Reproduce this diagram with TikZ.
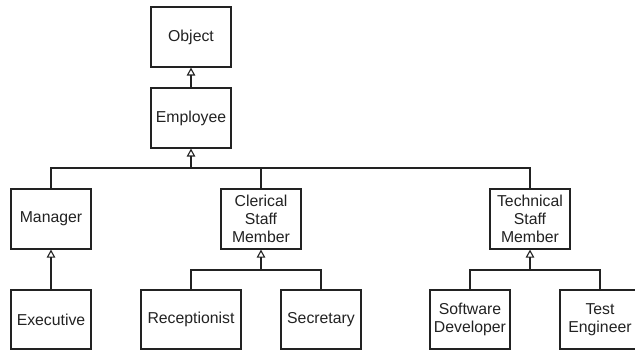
\documentclass[tikz,border=0pt]{standalone}
\usepackage{fontspec}
\setmainfont{Liberation Sans}
\usetikzlibrary{arrows.meta}
\definecolor{ink}{HTML}{222222}
\tikzset{
  cls/.style={draw=ink, line width=1.2pt, fill=white, minimum width=80pt, minimum height=60pt,
    inner sep=0pt, align=center, text=ink, font=\fontsize{15.8}{18.3}\selectfont},
  wide/.style={minimum width=100pt},
  low/.style={minimum height=59pt},
  gen/.style={draw=ink, line width=1.2pt, -{Triangle[open, length=8pt, width=8.5pt, line width=1.1pt]}},
  link/.style={draw=ink, line width=1.2pt}
}
\begin{document}
\begin{tikzpicture}[x=1pt, y=-1pt]
\clip (0,0) rectangle (635,350);
\fill[white] (0,0) rectangle (635,350);
\node[cls] (obj) at (191,37) {Object};
\node[cls] (emp) at (191,118) {Employee};
\node[cls] (mgr) at (51,219) {Manager};
\node[cls] (cler) at (261,219) {Clerical\\Staff\\Member};
\node[cls] (tech) at (530,219) {Technical\\Staff\\Member};
\node[cls,low] (exe) at (51,319.5) {Executive};
\node[cls,low,wide] (rec) at (191,319.5) {Receptionist};
\node[cls,low] (sec) at (321,319.5) {Secretary};
\node[cls,low] (soft) at (470,319.5) {Software\\Developer};
\node[cls,low] (test) at (600,319.5) {Test\\Engineer};
\coordinate (j1) at (191,168);
\coordinate (j2) at (261,270);
\coordinate (j3) at (530,270);
% generalisation arrows
\draw[gen] (emp) -- (obj);
\draw[gen] (j1) -- (emp.south);
\draw[gen] (exe) -- (mgr);
\draw[gen] (j2) -- (cler.south);
\draw[gen] (j3) -- (tech.south);
% buses
\draw[link] (mgr.north) |- (tech.north |- j1) -- (tech.north);
\draw[link] (cler.north) -- (cler.north |- j1);
\draw[link] (rec.north) |- (sec.north |- j2) -- (sec.north);
\draw[link] (soft.north) |- (test.north |- j3) -- (test.north);
\end{tikzpicture}
\end{document}
